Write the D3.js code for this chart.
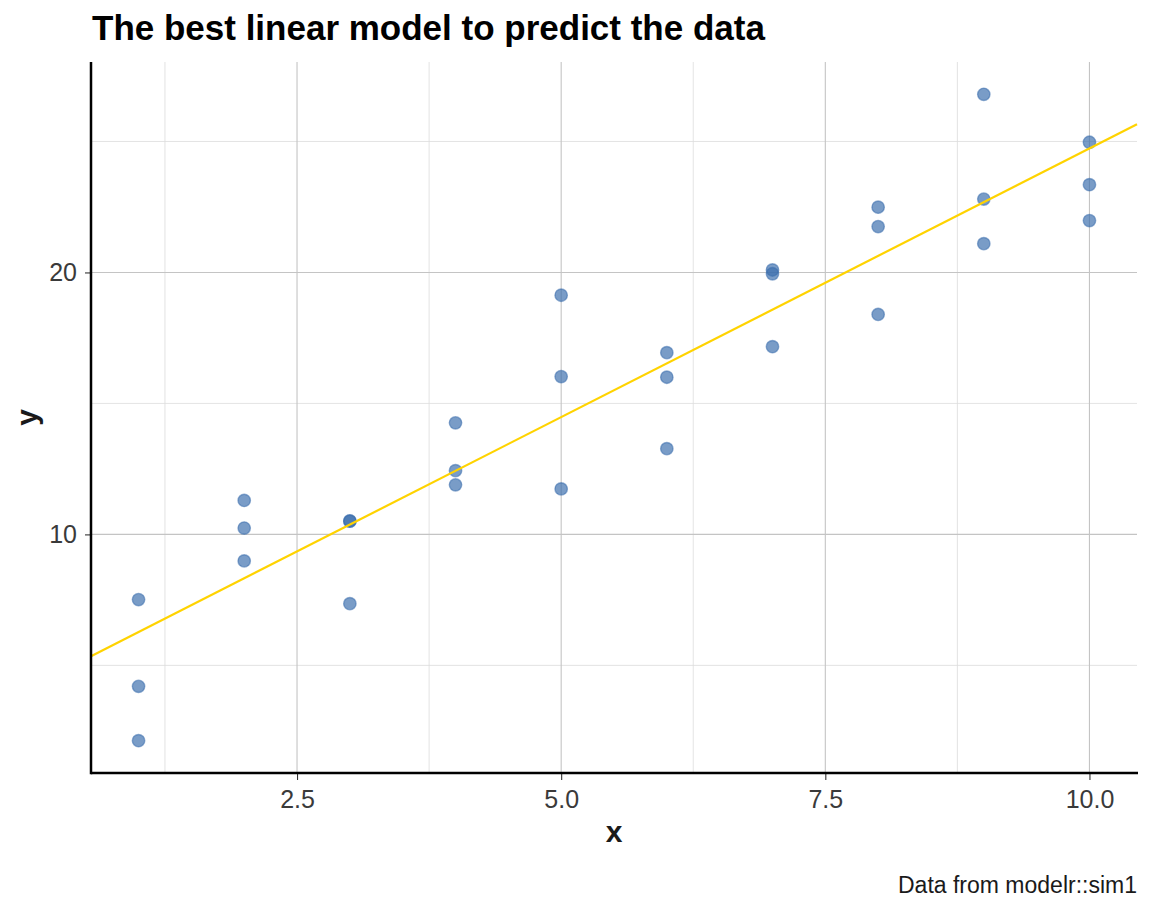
<!DOCTYPE html>
<html lang="en">
<head>
    <title>Best linear model</title>
    <script src="https://d3js.org/d3.v7.min.js"></script>
    <style>
        body { margin: 0; background: #fff; }
        text { font-family: "Liberation Sans", Arial, sans-serif; }
    </style>
</head>
<body>

<script>
    // modelr::sim1
    const xs = [1, 1, 1, 2, 2, 2, 3, 3, 3, 4, 4, 4, 5, 5, 5,
                6, 6, 6, 7, 7, 7, 8, 8, 8, 9, 9, 9, 10, 10, 10];
    const ys = [4.199913, 7.510634, 2.125473, 8.988857, 10.243105, 11.296823,
                7.356365, 10.505349, 10.511601, 12.434589, 11.892601, 14.257964,
                19.130050, 11.738021, 16.023790, 13.273571, 16.000000, 16.938647,
                20.094010, 17.165425, 19.950000, 21.750000, 18.398706, 22.491525,
                26.800000, 22.800000, 21.100000, 24.970000, 23.350000, 21.980000];

    // fitted coefficients
    const intercept = 4.2208;
    const slope = 2.0515;

    const xTicks = [2.5, 5.0, 7.5, 10.0];
    const xMinor = [1.25, 3.75, 6.25, 8.75];
    const yTicks = [10, 20];
    const yMinor = [5, 15, 25];

    const points = xs.map((x, i) => ({x: x, y: ys[i]}));

    const W = 1152, H = 921;
    const pLeft = 91, pRight = 1137, pTop = 62, pBottom = 773;

    const xExt = d3.extent(xs), yExt = d3.extent(ys);
    const xPad = (xExt[1] - xExt[0]) * 0.05, yPad = (yExt[1] - yExt[0]) * 0.05;
    const xDom = [xExt[0] - xPad, xExt[1] + xPad];

    const x = d3.scaleLinear().domain(xDom).range([pLeft, pRight]);
    const y = d3.scaleLinear().domain([yExt[0] - yPad, yExt[1] + yPad]).range([pBottom, pTop]);

    const svg = d3.select("body").append("svg").attr("width", W).attr("height", H);

    const grid = svg.append("g");
    grid.selectAll(".xminor").data(xMinor).enter().append("line")
        .attr("x1", d => x(d)).attr("x2", d => x(d)).attr("y1", pTop).attr("y2", pBottom)
        .attr("stroke", "#dcdcdc").attr("stroke-width", 0.8);
    grid.selectAll(".yminor").data(yMinor).enter().append("line")
        .attr("y1", d => y(d)).attr("y2", d => y(d)).attr("x1", pLeft).attr("x2", pRight)
        .attr("stroke", "#dcdcdc").attr("stroke-width", 0.8);
    grid.selectAll(".xmajor").data(xTicks).enter().append("line")
        .attr("x1", d => x(d)).attr("x2", d => x(d)).attr("y1", pTop).attr("y2", pBottom)
        .attr("stroke", "#c4c4c4").attr("stroke-width", 1.1);
    grid.selectAll(".ymajor").data(yTicks).enter().append("line")
        .attr("y1", d => y(d)).attr("y2", d => y(d)).attr("x1", pLeft).attr("x2", pRight)
        .attr("stroke", "#c4c4c4").attr("stroke-width", 1.1);

    // points
    svg.append("g").selectAll("circle")
        .data(points).enter()
        .append("circle")
        .attr("cx", d => x(d.x))
        .attr("cy", d => y(d.y))
        .attr("r", 6.2)
        .attr("fill", "#3a6dad")
        .attr("fill-opacity", 0.68)
        .attr("stroke", "#3a6dad")
        .attr("stroke-opacity", 0.55)
        .attr("stroke-width", 1.4);

    // regression line
    svg.append("line")
        .attr("x1", x(xDom[0])).attr("y1", y(intercept + slope * xDom[0]))
        .attr("x2", x(xDom[1])).attr("y2", y(intercept + slope * xDom[1]))
        .attr("stroke", "#ffd300").attr("stroke-width", 2.2);

    // axes
    const xAxis = svg.append("g").attr("transform", `translate(0,${pBottom})`)
        .call(d3.axisBottom(x).tickValues(xTicks).tickFormat(d3.format(".1f")).tickSize(7).tickSizeOuter(0).tickPadding(10));
    const yAxis = svg.append("g").attr("transform", `translate(${pLeft},0)`)
        .call(d3.axisLeft(y).tickValues(yTicks).tickSize(6).tickSizeOuter(0).tickPadding(8));
    [xAxis, yAxis].forEach(a => {
        a.select(".domain").remove();
        a.selectAll(".tick line").attr("stroke", "#333").attr("stroke-width", 1.1);
        a.selectAll(".tick text").attr("fill", "#3a3a3a")
            .style("font-family", "'Liberation Sans', Arial, sans-serif").style("font-size", "25px");
    });
    svg.append("line").attr("x1", pLeft).attr("x2", pRight + 1).attr("y1", pBottom).attr("y2", pBottom)
        .attr("stroke", "#000").attr("stroke-width", 2.5);
    svg.append("line").attr("x1", pLeft).attr("x2", pLeft).attr("y1", pTop).attr("y2", pBottom + 1.2)
        .attr("stroke", "#000").attr("stroke-width", 2.5);

    // titles
    svg.append("text").attr("x", 92).attr("y", 40)
        .style("font-size", "35px").style("font-weight", "bold").attr("fill", "#000")
        .text("The best linear model to predict the data");
    svg.append("text").attr("x", (pLeft + pRight) / 2).attr("y", 842).attr("text-anchor", "middle")
        .style("font-size", "30px").style("font-weight", "bold").attr("fill", "#1a1a1a")
        .text("x");
    svg.append("text").attr("transform", `translate(37,${(pTop + pBottom) / 2}) rotate(-90)`)
        .attr("text-anchor", "middle")
        .style("font-size", "30px").style("font-weight", "bold").attr("fill", "#1a1a1a")
        .text("y");
    svg.append("text").attr("x", pRight).attr("y", 893).attr("text-anchor", "end")
        .style("font-size", "23px").attr("fill", "#1a1a1a")
        .text("Data from modelr::sim1");
</script>

</body>
</html>
